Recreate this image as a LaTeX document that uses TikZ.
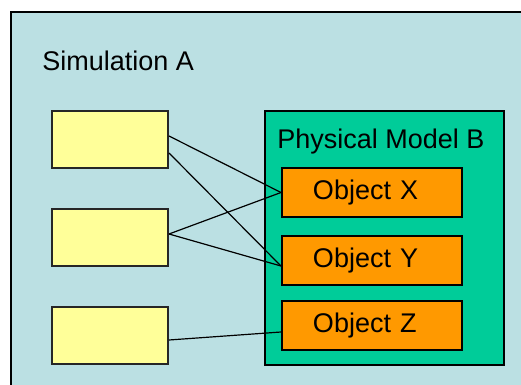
\documentclass[tikz,border=0pt]{standalone}
\usepackage{fontspec}
\setmainfont{Liberation Sans}
\definecolor{simfill}{RGB}{187,224,227}
\definecolor{modelfill}{RGB}{0,204,153}
\definecolor{objfill}{RGB}{255,153,0}
\definecolor{slotfill}{RGB}{255,255,153}
\begin{document}
\begin{tikzpicture}[x=0.5pt,y=-0.5pt,
    every node/.append style={font=\fontsize{13.5}{16}\selectfont},
    slot/.style={rectangle, draw=black!85, line width=1pt, fill=slotfill, minimum width=58pt, minimum height=28.5pt},
    obj/.style={rectangle, draw=black, line width=1pt, fill=objfill, minimum width=90pt, minimum height=24.5pt, text width=59pt, align=left}]

    \useasboundingbox (0,0) rectangle (521,385);
    \fill[white] (0,0) rectangle (521,385);
    \draw[line width=1pt, fill=simfill] (11,12) rectangle (540,400);
    \node(sim-label)[anchor=west, inner sep=0] at (42,61) {Simulation A};

    \node(slot-1)[slot] at (110,139.5) {};
    \node(slot-2)[slot] at (110,237.5) {};
    \node(slot-3)[slot] at (110,336) {};

    \node(model)[rectangle, draw=black, line width=1pt, fill=modelfill, minimum width=119.5pt, minimum height=127pt] at (384.5,238) {};
    \node(model-label)[anchor=west, inner sep=0] at (277,142) {Physical Model B};

    \node(obj-x)[obj] at (372,192.5) {Object X};
    \node(obj-y)[obj] at (372,261) {Object Y};
    \node(obj-z)[obj] at (372,325.5) {Object Z};

    \draw[line width=0.6pt] ([yshift=1.75pt]slot-1.east) -- (obj-x.west);
    \draw[line width=0.6pt] ([yshift=-6.75pt]slot-1.east) -- ([yshift=-2.5pt]obj-y.west);
    \draw[line width=0.6pt] ([yshift=1.75pt]slot-2.east) -- (obj-x.west);
    \draw[line width=0.6pt] ([yshift=1.75pt]slot-2.east) -- ([yshift=-2.5pt]obj-y.west);
    \draw[line width=0.6pt] ([yshift=-2pt]slot-3.east) -- ([yshift=-3.25pt]obj-z.west);
  \end{tikzpicture}
\end{document}
